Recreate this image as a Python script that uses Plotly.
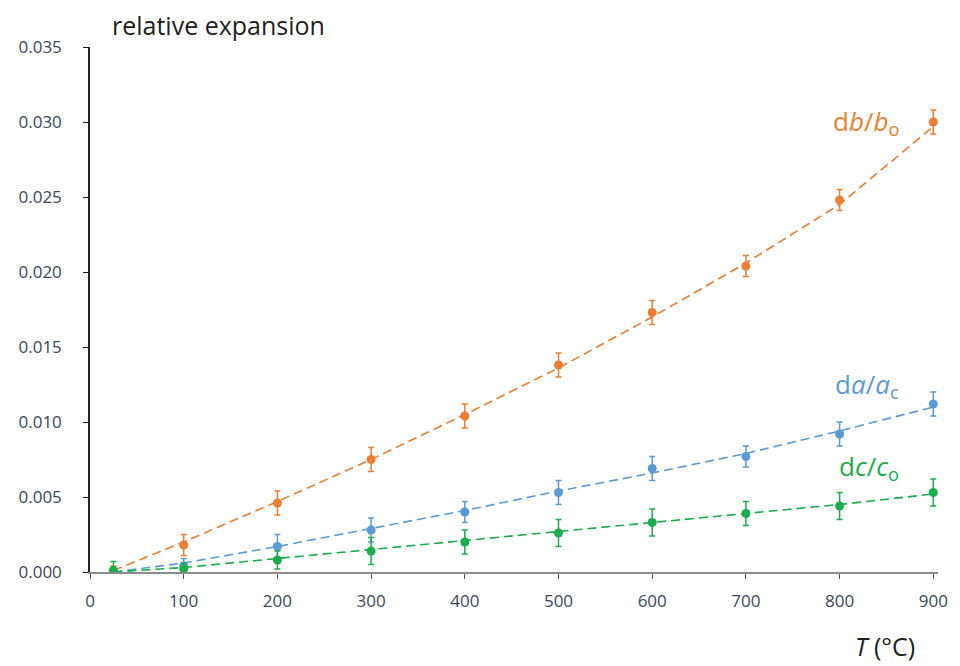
import plotly.graph_objects as go

T = [25, 100, 200, 300, 400, 500, 600, 700, 800, 900]

db_b = [0.0000, 0.0018, 0.0046, 0.0075, 0.0104, 0.0138, 0.0173, 0.0204, 0.0248, 0.0300]
da_a = [0.0000, 0.0004, 0.0017, 0.0028, 0.0040, 0.0053, 0.0069, 0.0077, 0.0092, 0.0112]
dc_c = [0.0001, 0.0002, 0.0008, 0.0014, 0.0020, 0.0026, 0.0033, 0.0039, 0.0044, 0.0053]

db_err = [0.0004, 0.0007, 0.0008, 0.0008, 0.0008, 0.0008, 0.0008, 0.0007, 0.0007, 0.0008]
da_err = [0.0003, 0.0005, 0.0008, 0.0008, 0.0007, 0.0008, 0.0008, 0.0007, 0.0008, 0.0008]
dc_err = [0.0006, 0.0004, 0.0006, 0.0009, 0.0008, 0.0009, 0.0009, 0.0008, 0.0009, 0.0009]

db_fit = [0.0001, 0.0020, 0.0047, 0.0075, 0.0105, 0.0136, 0.0170, 0.0206, 0.0245, 0.0297]
da_fit = [0.0000, 0.0006, 0.0017, 0.0029, 0.0041, 0.0054, 0.0066, 0.0079, 0.0094, 0.0110]
dc_fit = [0.0000, 0.0003, 0.0009, 0.0015, 0.0021, 0.0027, 0.0033, 0.0039, 0.0045, 0.0052]

x_ticks = [0, 100, 200, 300, 400, 500, 600, 700, 800, 900]
y_ticks = [0.000, 0.005, 0.010, 0.015, 0.020, 0.025, 0.030, 0.035]

ORANGE = "#ed7d31"
BLUE = "#5b9bd5"
GREEN = "#1aad4b"
FONT = "Open Sans"
TICKCOL = "#3b4759"

fig = go.Figure()
series = [
    (db_b, db_err, db_fit, ORANGE),
    (da_a, da_err, da_fit, BLUE),
    (dc_c, dc_err, dc_fit, GREEN),
]
for vals, errs, fit, col in series:
    fig.add_trace(go.Scatter(x=T, y=fit, mode="lines",
                             line=dict(color=col, width=1.6, dash="9px,5px"),
                             showlegend=False, hoverinfo="skip"))
    fig.add_trace(go.Scatter(x=T, y=vals, mode="markers",
                             marker=dict(color=col, size=9),
                             error_y=dict(type="data", array=errs, color=col,
                                          thickness=1.5, width=3),
                             showlegend=False))

labels = [
    ("d<i>b</i>/<i>b</i><sub>o</sub>", 0.0300, ORANGE),
    ("d<i>a</i>/<i>a</i><sub>c</sub>", 0.0125, BLUE),
    ("d<i>c</i>/<i>c</i><sub>o</sub>", 0.0070, GREEN),
]
for txt, yv, col in labels:
    fig.add_annotation(x=866, y=yv, xref="x", yref="y", xanchor="right",
                       yanchor="middle", text=txt, showarrow=False,
                       font=dict(color=col, size=26, family=FONT))

fig.add_annotation(x=(110 - 90) / 855, y=(572 - 25) / 525, xref="paper", yref="paper",
                   xanchor="left", yanchor="middle", showarrow=False,
                   text="relative expansion",
                   font=dict(size=25, color="#1e1e1e", family=FONT))
fig.add_annotation(x=(924 - 90) / 855, y=-(646 - 572) / 525, xref="paper", yref="paper",
                   xanchor="right", yanchor="middle", showarrow=False,
                   text="<i>T</i> (°C)", font=dict(size=25, color="#1e1e1e", family=FONT))

fig.update_layout(
    width=960, height=666,
    margin=dict(l=90, r=15, t=47, b=94),
    paper_bgcolor="white", plot_bgcolor="white",
    font=dict(family=FONT, color=TICKCOL, size=17),
    xaxis=dict(range=[0, 905], tickvals=x_ticks, ticktext=[str(v) for v in x_ticks],
               showgrid=False, zeroline=False, showline=True, linecolor="#8c8c8c",
               linewidth=1.5, ticks="outside", ticklen=5, tickcolor="#595959",
               ticklabelstandoff=8,
               tickfont=dict(size=17, color=TICKCOL, family=FONT)),
    yaxis=dict(range=[0, 0.035], tickvals=y_ticks,
               ticktext=[f"{v:.3f}" for v in y_ticks],
               showgrid=False, zeroline=False, showline=True, linecolor="#222222",
               linewidth=1.5, ticks="outside", ticklen=5, tickcolor="#222222",
               ticklabelstandoff=18,
               tickfont=dict(size=17, color=TICKCOL, family=FONT)),
)

fig.write_html("out.html")
